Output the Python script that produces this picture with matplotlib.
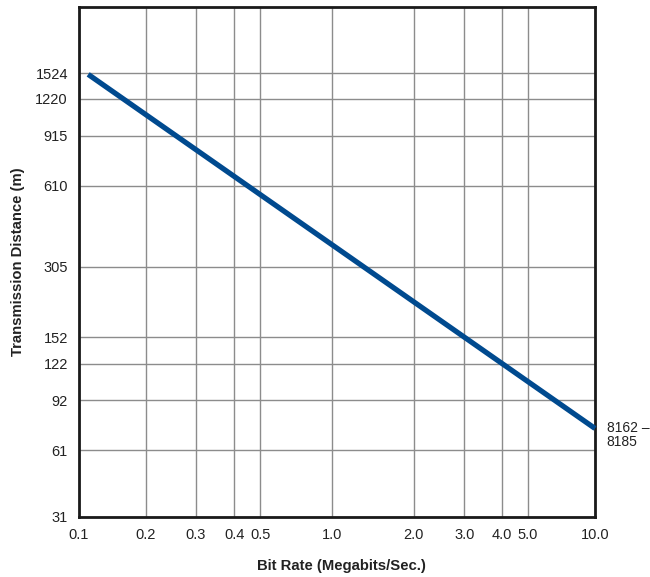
import numpy as np
import matplotlib.pyplot as plt

# tick values as printed on the chart
x_ticks = [0.1, 0.2, 0.3, 0.4, 0.5, 1.0, 2.0, 3.0, 4.0, 5.0, 10.0]
x_labels = ["0.1", "0.2", "0.3", "0.4", "0.5", "1.0", "2.0", "3.0", "4.0", "5.0", "10.0"]
y_ticks = [31, 61, 92, 122, 152, 305, 610, 915, 1220, 1524]
y_labels = [str(v) for v in y_ticks]

# the printed grid is not an even log grid, so keep where each tick sits
x_grid_pos = [0, 66.7, 117, 155.3, 181.3, 252.7, 334.7, 385.3, 422.7, 448.7, 516]
y_grid_pos = [0, 66.7, 116.7, 153.3, 179.7, 250.3, 331, 381, 418, 443.7]
y_top_pos = 510

# the single curve (bit rate vs distance)
bit_rate = [0.11, 10.0]
distance = [1510, 73]
curve_label = "8162 –\n8185"


def make_scale(ticks, pos):
    lt = np.log10(ticks)
    pos = np.asarray(pos, float)

    def fwd(v):
        v = np.log10(np.clip(np.asarray(v, float), 1e-9, None))
        out = np.interp(v, lt, pos)
        out = np.where(v < lt[0], pos[0] + (v - lt[0]) * (pos[1] - pos[0]) / (lt[1] - lt[0]), out)
        out = np.where(v > lt[-1], pos[-1] + (v - lt[-1]) * (pos[-1] - pos[-2]) / (lt[-1] - lt[-2]), out)
        return out

    def inv(p):
        p = np.asarray(p, float)
        out = np.interp(p, pos, lt)
        out = np.where(p < pos[0], lt[0] + (p - pos[0]) * (lt[1] - lt[0]) / (pos[1] - pos[0]), out)
        out = np.where(p > pos[-1], lt[-1] + (p - pos[-1]) * (lt[-1] - lt[-2]) / (pos[-1] - pos[-2]), out)
        return 10 ** out

    return fwd, inv


plt.rcParams['font.family'] = ['Liberation Sans', 'DejaVu Sans']

fig = plt.figure(figsize=(6.5, 5.77), dpi=100)
ax = fig.add_axes([79 / 650, 1 - 517 / 577, (595 - 79) / 650, (517 - 7) / 577])

xf, xi = make_scale(x_ticks, x_grid_pos)
yf, yi = make_scale(y_ticks, y_grid_pos)
ax.set_xscale('function', functions=(xf, xi))
ax.set_yscale('function', functions=(yf, yi))

ax.plot(bit_rate, distance, color='#004a8f', lw=3.8, solid_capstyle='butt', zorder=3, clip_on=False)

ax.set_xlim(x_ticks[0], x_ticks[-1])
ax.set_ylim(y_ticks[0], float(yi(y_top_pos)))
ax.set_xticks(x_ticks)
ax.set_xticklabels(x_labels)
ax.set_yticks(y_ticks)
ax.set_yticklabels(y_labels)
ax.minorticks_off()
ax.tick_params(length=0, labelsize=10.5, pad=8, colors='#222222')

ax.grid(True, color='#8c8c8c', lw=1.0)
for s in ax.spines.values():
    s.set_linewidth(2)
    s.set_color('#1a1a1a')

ax.annotate(curve_label, xy=(bit_rate[-1], distance[-1]), xytext=(8.5, -4.7),
            textcoords='offset points', ha='left', va='center',
            fontsize=10, color='#222222', linespacing=0.95, annotation_clip=False)

ax.set_xlabel('Bit Rate (Megabits/Sec.)', fontsize=10.7, fontweight='bold', color='#222222', va='center')
ax.set_ylabel('Transmission Distance (m)', fontsize=10.7, fontweight='bold', color='#222222', va='center')
ax.xaxis.set_label_coords((341.7 - 79) / 516, (517 - 565.7) / 510)
ax.yaxis.set_label_coords((18.3 - 79) / 516, (517 - 262) / 510)

fig.savefig('out.png', dpi=100)
